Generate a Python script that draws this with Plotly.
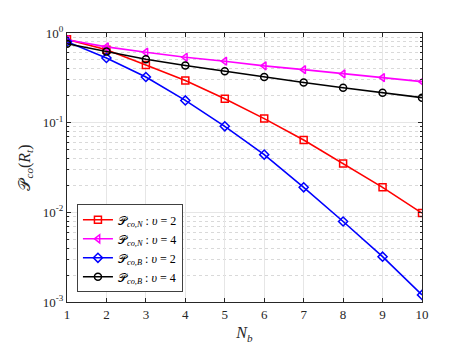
import plotly.graph_objects as go

# Data
n_b = [1, 2, 3, 4, 5, 6, 7, 8, 9, 10]
p_n_v2 = [0.85, 0.65, 0.44, 0.295, 0.185, 0.111, 0.064, 0.035, 0.019, 0.0098]
p_n_v4 = [0.84, 0.70, 0.61, 0.536, 0.485, 0.43, 0.39, 0.35, 0.318, 0.287]
p_b_v2 = [0.80, 0.527, 0.323, 0.177, 0.091, 0.044, 0.019, 0.0079, 0.0032, 0.0012]
p_b_v4 = [0.76, 0.62, 0.51, 0.435, 0.375, 0.323, 0.28, 0.245, 0.215, 0.19]

y_tickvals = [1e-3, 1e-2, 1e-1, 1]
y_ticktext = ["10<sup>-3</sup>", "10<sup>-2</sup>", "10<sup>-1</sup>", "10<sup>0</sup>"]
y_minorvals = [m * d for d in (1e-3, 1e-2, 1e-1) for m in range(2, 10)]

series = [
    (p_n_v2, "𝒫<sub><i>co,N</i></sub> : <i>υ</i> = 2", "#ff0000", "square-open"),
    (p_n_v4, "𝒫<sub><i>co,N</i></sub> : <i>υ</i> = 4", "#ff00ff", "triangle-left-open"),
    (p_b_v2, "𝒫<sub><i>co,B</i></sub> : <i>υ</i> = 2", "#0000ff", "diamond-open"),
    (p_b_v4, "𝒫<sub><i>co,B</i></sub> : <i>υ</i> = 4", "#000000", "circle-open"),
]

fig = go.Figure()
for ys, name, color, symbol in series:
    fig.add_trace(go.Scatter(
        x=n_b, y=ys, name=name, mode="lines+markers",
        line=dict(color=color, width=1.6),
        marker=dict(symbol=symbol, size=7, color=color,
                    line=dict(color=color, width=1.5))))

serif = "Liberation Serif, Times New Roman, serif"
axis_style = dict(
    showline=True, linecolor="#262626", linewidth=1, mirror="ticks",
    ticks="inside", ticklen=4, tickcolor="#262626",
    showgrid=True, gridcolor="#e6e6e6", gridwidth=1,
    zeroline=False, tickfont=dict(family=serif, size=13, color="#262626"))

fig.update_xaxes(
    range=[1, 10], tickvals=n_b,
    title=dict(text="<i>N<sub>b</sub></i>", font=dict(family=serif, size=16, color="#262626"), standoff=6),
    **axis_style)

fig.update_yaxes(
    type="log", range=[-3, 0],
    tickvals=y_tickvals, ticktext=y_ticktext,
    minor=dict(tickvals=y_minorvals, showgrid=True, gridcolor="#d9d9d9",
               griddash="dot", gridwidth=1,
               ticks="inside", ticklen=2, tickcolor="#262626"),
    title=dict(text="𝒫<sub><i>co</i></sub>(<i>R<sub>t</sub></i>)",
               font=dict(family=serif, size=16, color="#262626"), standoff=8),
    **axis_style)

fig.update_layout(
    width=457, height=343,
    margin=dict(l=59, r=43, t=25, b=41),
    font=dict(family=serif, color="#262626"),
    plot_bgcolor="white", paper_bgcolor="white",
    legend=dict(x=0.028, y=0.036, xanchor="left", yanchor="bottom",
                bgcolor="white", bordercolor="#404040", borderwidth=1,
                font=dict(family=serif, size=12, color="#000000"),
                tracegroupgap=0, itemwidth=30),
    showlegend=True)

fig.write_html("out.html")
